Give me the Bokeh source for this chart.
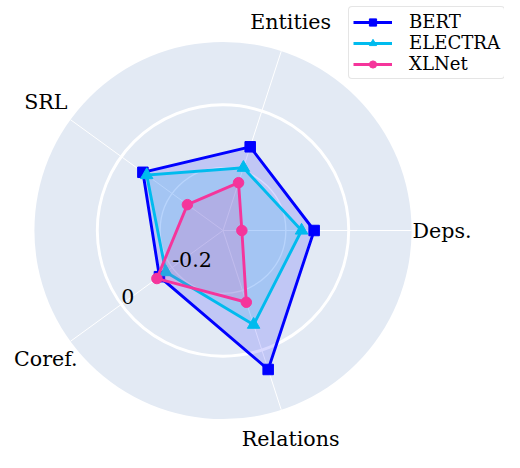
import numpy as np
from bokeh.plotting import figure
from bokeh.models import Range1d, Legend, LegendItem
from bokeh.core.properties import value
from bokeh.embed import file_html
from bokeh.resources import INLINE

# ---- data ----
categories = ["Deps.", "Entities", "SRL", "Coref.", "Relations"]
bert = [-0.11, -0.12, -0.085, -0.15, 0.065]
electra = [-0.15, -0.19, -0.10, -0.175, -0.085]
xlnet = [-0.34, -0.24, -0.26, -0.14, -0.16]
series_names = ["BERT", "ELECTRA", "XLNet"]
r_ticks = [-0.2, 0.0]
r_tick_labels = ["-0.2", "0"]
r_min, r_max = -0.4, 0.2

# ---- layout ----
W, H = 504, 452
PX = 314.3           # pixels per radial unit
cx, cy = 222.5, 230  # center of polar plot (px from left / top)
FONT = "DejaVu Serif"

p = figure(width=W, height=H, output_backend="svg", toolbar_location=None,
           x_range=Range1d(-cx / PX, (W - cx) / PX),
           y_range=Range1d(-(H - cy) / PX, cy / PX),
           min_border=0, outline_line_color=None,
           x_axis_location=None, y_axis_location=None)
p.xgrid.visible = False
p.ygrid.visible = False
p.background_fill_color = "white"

n = len(categories)
theta = np.deg2rad(np.arange(n) * 360.0 / n)
R = r_max - r_min

# background disc
p.circle(x=[0], y=[0], radius=R, fill_color="#E3EAF4", line_color=None)
# radial grid circles
for rt, lw in zip(r_ticks, [1.3, 2.9]):
    p.circle(x=[0], y=[0], radius=rt - r_min, fill_color=None,
             line_color="white", line_width=lw)
# spokes
p.segment(x0=np.zeros(n), y0=np.zeros(n), x1=R * np.cos(theta), y1=R * np.sin(theta),
          line_color="white", line_width=1)

styles = [
    ("BERT", bert, "#0000FF", "square", 10.5),
    ("ELECTRA", electra, "#00BBEE", "triangle", 12.5),
    ("XLNet", xlnet, "#F5359B", "circle", 10.5),
]
items = []
for name, vals, color, marker, size in styles:
    d = np.array(vals) - r_min
    xs = d * np.cos(theta)
    ys = d * np.sin(theta)
    p.patch(xs, ys, fill_color=color, fill_alpha=0.15, line_color=None)
    ln = p.line(np.append(xs, xs[0]), np.append(ys, ys[0]), line_color=color,
                line_width=2.9, line_join="miter")
    sc = p.scatter(xs, ys, marker=marker, size=size, fill_color=color, line_color=color)
    items.append(LegendItem(label=name, renderers=[ln, sc]))

# category labels
LR = 219 / PX
p.text(x=LR * np.cos(theta), y=LR * np.sin(theta), text=categories,
       text_align="center", text_baseline="middle",
       text_font=value(FONT), text_font_size="20.6px", text_color="black")

# radial tick labels (at Coref. angle)
ang = np.deg2rad(216)
tr = np.array(r_ticks) - r_min
p.text(x=tr * np.cos(ang), y=tr * np.sin(ang), text=r_tick_labels,
       text_align="left", text_baseline="bottom",
       text_font=value(FONT), text_font_size="20.6px", text_color="black")

legend = Legend(items=items, location=(348, 373), margin=0, padding=4,
                glyph_width=39, glyph_height=18, label_height=18, spacing=0,
                label_standoff=17, label_text_font=FONT, label_text_font_size="18.1px",
                label_text_color="black",
                border_line_color="#cccccc", background_fill_alpha=0.8)
if "border_radius" in Legend.properties():
    legend.border_radius = 4
p.add_layout(legend)

open("out.html", "w").write(file_html(p, INLINE))
